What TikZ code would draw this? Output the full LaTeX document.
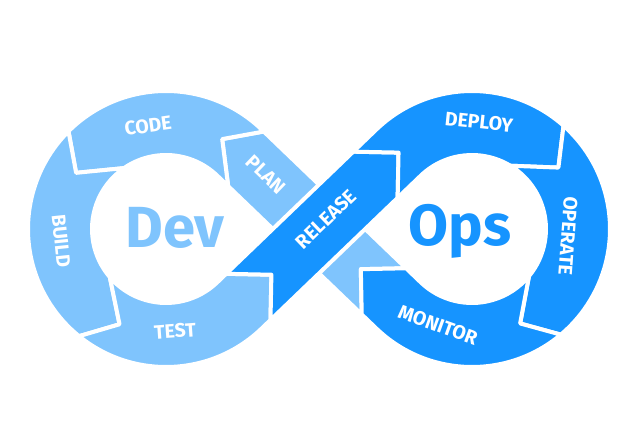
\documentclass[tikz,border=0pt]{standalone}
\usepackage{fontspec}
\setsansfont{Fira Sans}
\usetikzlibrary{calc}
\definecolor{devblue}{HTML}{7FC4FD}
\definecolor{opsblue}{HTML}{1694FF}
\tikzset{
  devpart/.style={fill=devblue, draw=white, line width=4pt, line join=round},
  opspart/.style={fill=opsblue, draw=white, line width=4pt, line join=round},
  steplabel/.style={text=white, inner sep=0pt, font=\sffamily\bfseries\fontsize{19.5}{19.5}\selectfont},
  biglabel/.style={inner sep=0pt, anchor=base, font=\sffamily\bfseries\fontsize{58}{58}\selectfont}
}
\begin{document}
\begin{tikzpicture}[x=1pt,y=1pt]
\useasboundingbox (0,0) rectangle (640,432);
\coordinate (L) at (166,203);
\coordinate (R) at (472,203);
\coordinate (M) at (319,203);
\coordinate (r1) at ($(M)+(43.85:-98)+(133.85:-32)$);
\coordinate (r2) at ($(M)+(43.85:-66)$);
\coordinate (r3) at ($(M)+(43.85:-98)+(133.85:32)$);
\coordinate (r4) at ($(M)+(43.85:78.3)+(133.85:-32)$);
\coordinate (r5) at ($(M)+(43.85:110.3)$);
\coordinate (r6) at ($(M)+(43.85:78.3)+(133.85:32)$);
\coordinate (p1) at ($(M)+(136.15:-90)+(46.15:-32)$);
\coordinate (p2) at ($(M)+(136.15:-58)$);
\coordinate (p3) at ($(M)+(136.15:-90)+(46.15:32)$);
\coordinate (p4) at ($(M)+(136.15:107.4)+(46.15:32)$);
\coordinate (p5) at ($(M)+(136.15:95.2)+(46.15:-32)$);
\path[devpart] (p3) -- (p4) -- ($(L)+(58:106)$) -- (p5) -- (p1) -- (p2) -- cycle;
\path[devpart] (p4) -- ($(L)+(46.15:138)$) arc[start angle=46.15, end angle=134.95, radius=138]
  -- ($(L)+(148:106)$) -- ($(L)+(124.62:74)$) arc[start angle=124.62, end angle=46.15, radius=74]
  -- (p5) -- ($(L)+(58:106)$) -- cycle;
\path[devpart] ($(L)+(134.95:138)$) arc[start angle=134.95, end angle=230.95, radius=138]
  -- ($(L)+(244:106)$) -- ($(L)+(220.62:74)$) arc[start angle=220.62, end angle=124.62, radius=74]
  -- ($(L)+(148:106)$) -- cycle;
\path[devpart] ($(L)+(230.95:138)$) arc[start angle=230.95, end angle=313.85, radius=138]
  -- (r1) -- (r2) -- (r3) -- ($(L)+(313.85:74)$) arc[start angle=313.85, end angle=220.62, radius=74]
  -- ($(L)+(244:106)$) -- cycle;
\path[opspart] (r1) -- (r4) -- (r5) -- (r6) -- (r3) -- (r2) -- cycle;
\path[opspart] (r6) -- ($(R)+(133.85:138)$) arc[start angle=133.85, end angle=48.45, radius=138]
  -- ($(R)+(35.4:106)$) -- ($(R)+(58.78:74)$) arc[start angle=58.78, end angle=133.85, radius=74]
  -- (r4) -- (r5) -- cycle;
\path[opspart] ($(R)+(48.45:138)$) arc[start angle=48.45, end angle=-49.95, radius=138]
  -- ($(R)+(-63:106)$) -- ($(R)+(-39.62:74)$) arc[start angle=-39.62, end angle=58.78, radius=74]
  -- ($(R)+(35.4:106)$) -- cycle;
\path[opspart] ($(R)+(-49.95:138)$) arc[start angle=-49.95, end angle=-133.85, radius=138]
  -- (p1) -- (p2) -- (p3) -- ($(R)+(-133.85:74)$) arc[start angle=-133.85, end angle=-39.62, radius=74]
  -- ($(R)+(-63:106)$) -- cycle;
\node[steplabel, rotate=-43.85] (plan) at ($(M)+(136.15:76)+(46.15:3)$) {PLAN};
\node[steplabel, rotate=8] (code) at (148,306) {CODE};
\node[steplabel, rotate=-84] (build) at (61,191) {BUILD};
\node[steplabel, rotate=4] (test) at (175,101) {TEST};
\node[steplabel, rotate=43.85] (release) at ($(M)+(43.85:12)+(133.85:2)$) {RELEASE};
\node[steplabel, rotate=-6] (deploy) at (479,310) {DEPLOY};
\node[steplabel, rotate=-94] (operate) at (568,196) {OPERATE};
\node[steplabel, rotate=-20] (monitor) at (438,107) {MONITOR};
\node[biglabel, text=devblue] (dev) at (175,185) {Dev};
\node[biglabel, text=opsblue] (ops) at (460,187) {Ops};
\end{tikzpicture}
\end{document}
